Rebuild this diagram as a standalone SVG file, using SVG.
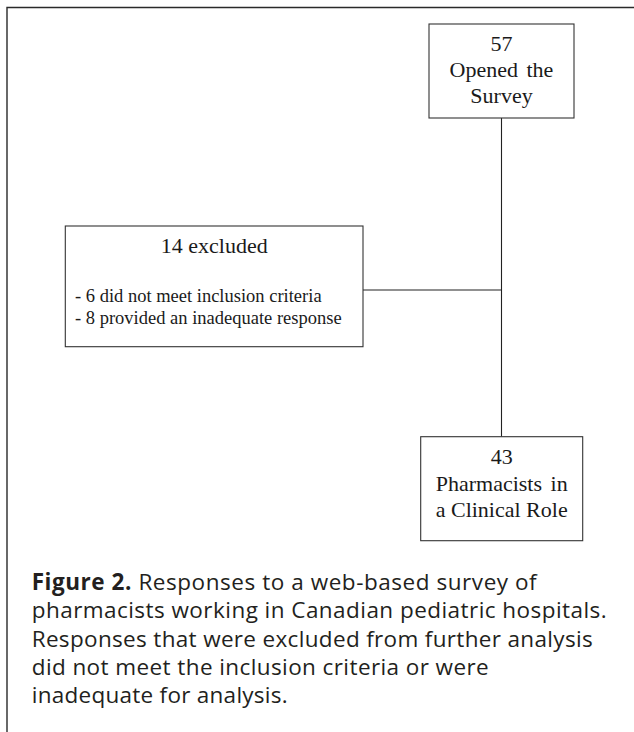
<svg xmlns="http://www.w3.org/2000/svg" width="634" height="732" viewBox="0 0 634 732">
<style>
.frame{fill:none;stroke:#2a2a2a;stroke-width:1.4}
.box{fill:#ffffff;stroke:#333333;stroke-width:1.1}
.conn{fill:none;stroke:#222222;stroke-width:1.1}
.t{font-family:"Liberation Serif","Times New Roman",serif;font-size:22px;fill:#1a1a1a;text-anchor:middle}
.s{font-family:"Liberation Serif","Times New Roman",serif;font-size:18.5px;fill:#1a1a1a}
.cap{font-family:"Open Sans","Noto Sans",sans-serif;font-size:22.5px;fill:#231f20}
.b{font-weight:bold}
</style>
<rect x="0" y="0" width="634" height="732" fill="#ffffff"/>
<path class="frame" d="M7,740 V7.5 H645"/>
<g id="connectors">
<line class="conn" x1="501.5" y1="118" x2="501.5" y2="436.7"/>
<line class="conn" x1="363" y1="290" x2="501.5" y2="290"/>
</g>
<g id="node-opened">
<rect class="box" x="429" y="24" width="145" height="94"/>
<text class="t" x="501.5" y="50.7">57</text>
<text class="t" x="501.5" y="76.7" word-spacing="3">Opened the</text>
<text class="t" x="501.5" y="103">Survey</text>
</g>
<g id="node-excluded">
<rect class="box" x="65.3" y="226" width="297.7" height="120.7"/>
<text class="t" x="214.2" y="252.7">14 excluded</text>
<text class="s" x="75" y="302.3">- 6 did not meet inclusion criteria</text>
<text class="s" x="75" y="324.3">- 8 provided an inadequate response</text>
</g>
<g id="node-clinical">
<rect class="box" x="420.7" y="436.7" width="162" height="104"/>
<text class="t" x="501.7" y="464.3">43</text>
<text class="t" x="501.7" y="490.7" word-spacing="3">Pharmacists in</text>
<text class="t" x="501.7" y="516.7">a Clinical Role</text>
</g>
<g id="caption">
<text class="cap" x="31.7" y="590" textLength="505" lengthAdjust="spacing"><tspan class="b">Figure 2.</tspan> Responses to a web-based survey of</text>
<text class="cap" x="31.7" y="618.3" textLength="575" lengthAdjust="spacing">pharmacists working in Canadian pediatric hospitals.</text>
<text class="cap" x="31.7" y="646.7" textLength="561" lengthAdjust="spacing">Responses that were excluded from further analysis</text>
<text class="cap" x="31.7" y="675" textLength="457" lengthAdjust="spacing">did not meet the inclusion criteria or were</text>
<text class="cap" x="31.7" y="703" textLength="256" lengthAdjust="spacing">inadequate for analysis.</text>
</g>
</svg>
